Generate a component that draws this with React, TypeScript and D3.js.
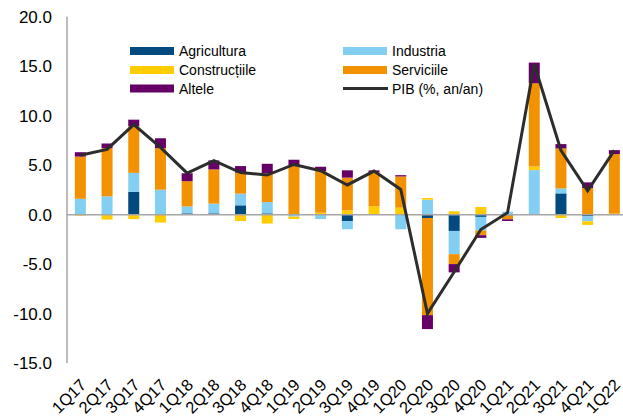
import React from 'react';
import * as d3 from 'd3';

// quarters on the x axis
const categories = [
  '1Q17', '2Q17', '3Q17', '4Q17', '1Q18', '2Q18', '3Q18', '4Q18', '1Q19', '2Q19', '3Q19',
  '4Q19', '1Q20', '2Q20', '3Q20', '4Q20', '1Q21', '2Q21', '3Q21', '4Q21', '1Q22',
];

// contributions (pp)
const agricultura = [0.05, -0.05, 2.3, 0, 0.13, 0.13, 0.94, 0.13, 0, 0, -0.67, 0, 0, -0.34, -1.65, -0.23, -0.1, 0, 2.15, -0.17, 0];
const industria = [1.55, 1.85, 1.92, 2.52, 0.7, 0.98, 1.18, 1.14, -0.2, -0.44, -0.81, 0, -1.48, 1.51, -2.35, -1.38, 0.3, 4.5, 0.5, -0.5, 0];
const constructii = [-0.1, -0.45, -0.45, -0.8, 0, 0, -0.65, -0.9, -0.25, 0.2, 0.44, 0.84, 0.7, 0.17, 0.34, 0.77, 0, 0.37, -0.34, -0.37, 0.1];
const servicii = [4.27, 4.87, 4.71, 4.2, 2.55, 3.46, 2.12, 2.93, 4.98, 4.2, 3.3, 3.46, 3.16, -9.82, -1.0, -0.47, -0.37, 8.41, 4.04, 2.69, 6.02];
const altele = [0.44, 0.47, 0.67, 1.0, 0.8, 0.91, 0.67, 0.94, 0.57, 0.44, 0.74, 0.17, 0.13, -1.41, -0.84, -0.27, -0.17, 2.09, 0.44, 0.57, 0.4];
const pib = [6.0, 6.6, 9.1, 6.8, 4.2, 5.45, 4.25, 4.0, 5.07, 4.44, 3.0, 4.4, 2.55, -10.0, -5.8, -1.5, 0.2, 15.2, 6.5, 2.4, 6.5];

const yTicks = [20, 15, 10, 5, 0, -5, -10, -15];

const seriesNames = ['Agricultura', 'Industria', 'Construcțiile', 'Serviciile', 'Altele'];
const seriesColors = ['#004a7f', '#82cff2', '#ffcc00', '#f39200', '#660066'];
const seriesValues = [agricultura, industria, constructii, servicii, altele];

const W = 623;
const H = 419;
const FONT = '"Liberation Sans", Arial, sans-serif';

const App: React.FC = () => {
  const x = d3.scalePoint<string>().domain(categories).range([67, 627.7]).padding(0.5);
  const y = d3.scaleLinear().domain([-15, 20]).range([363, 16.8]);
  const barW = 11;

  const rows = categories.map((c, i) => {
    const r: Record<string, number | string> = { cat: c };
    seriesNames.forEach((n, k) => (r[n] = seriesValues[k][i]));
    return r;
  });
  const stacked = d3.stack<Record<string, number | string>>()
    .keys(seriesNames)
    .offset(d3.stackOffsetDiverging)(rows as any);

  const line = d3.line<number>()
    .x((d, i) => x(categories[i])!)
    .y(d => y(d));

  const legend = [
    { name: 'Agricultura', color: seriesColors[0], lx: 130, row: 0 },
    { name: 'Industria', color: seriesColors[1], lx: 343, row: 0 },
    { name: 'Construcțiile', color: seriesColors[2], lx: 130, row: 1 },
    { name: 'Serviciile', color: seriesColors[3], lx: 343, row: 1 },
    { name: 'Altele', color: seriesColors[4], lx: 130, row: 2 },
  ];
  const legendY = [51, 70, 88.5];

  return (
    <div style={{ position: 'fixed', left: 0, top: 0, background: '#fff' }}>
      <svg width={W} height={H} style={{ display: 'block', fontFamily: FONT }}>
        {/* bars */}
        {stacked.map((s, k) => (
          <g key={s.key} fill={seriesColors[k]}>
            {s.map((d, i) => {
              const top = y(Math.max(d[0], d[1]));
              const h = Math.abs(y(d[0]) - y(d[1]));
              if (h < 0.01) return null;
              return <rect key={i} x={x(categories[i])! - barW / 2} y={top} width={barW} height={h} />;
            })}
          </g>
        ))}

        {/* axes */}
        <line x1={67} x2={67} y1={y(20)} y2={y(-15)} stroke="#a6a6a6" strokeWidth={1.5} />
        <line x1={67} x2={W} y1={y(0)} y2={y(0)} stroke="#a6a6a6" strokeWidth={1.5} />

        {yTicks.map(t => (
          <text key={t} x={52} y={y(t)} dy="0.36em" textAnchor="end" fontSize={17} fill="#000">
            {t.toFixed(1)}
          </text>
        ))}

        {categories.map(c => (
          <text key={c} transform={`translate(${x(c)! + 7},386) rotate(-45)`} textAnchor="end" fontSize={16.5} fill="#000">
            {c}
          </text>
        ))}

        {/* PIB line */}
        <path d={line(pib) || ''} fill="none" stroke="#2d2d2d" strokeWidth={3} />

        {/* legend */}
        {legend.map(l => (
          <g key={l.name}>
            <rect x={l.lx} y={legendY[l.row] - 4} width={44} height={8} fill={l.color} />
            <text x={l.lx + 49} y={legendY[l.row]} dy="0.36em" fontSize={14} fill="#000">{l.name}</text>
          </g>
        ))}
        <line x1={343} x2={388} y1={legendY[2]} y2={legendY[2]} stroke="#2d2d2d" strokeWidth={3} />
        <text x={392} y={legendY[2]} dy="0.36em" fontSize={14} fill="#000">PIB (%, an/an)</text>
      </svg>
    </div>
  );
};

export default App;
